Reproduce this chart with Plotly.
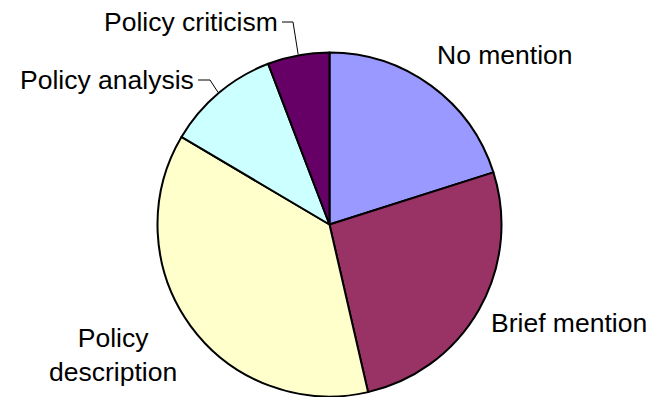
import math
import plotly.graph_objects as go

# ---- data ----
categories = ["No mention", "Brief mention", "Policy description", "Policy analysis", "Policy criticism"]
values = [20.1, 26.3, 37.1, 10.7, 5.8]
colors = ["#9999FF", "#993366", "#FFFFCC", "#CCFFFF", "#660066"]
label_texts = ["No mention", "Brief mention", "Policy<br>description", "Policy analysis", "Policy criticism"]

W, H = 658, 397
CX, CY, R = 329.5, 224.5, 172.0   # pie centre / radius in pixels

def px(x):
    return x / W

def py(y):
    return 1 - y / H

fig = go.Figure(go.Pie(
    labels=categories,
    values=values,
    sort=False,
    direction="clockwise",
    rotation=0,
    textinfo="none",
    hoverinfo="label+percent",
    marker=dict(colors=colors, line=dict(color="black", width=2)),
    domain=dict(x=[px(CX - R), px(CX + R)], y=[py(CY + R), py(CY - R)]),
    showlegend=False,
))

# label positions (pixels) — style/layout only
label_pos = [(505, 55), (569, 323), (113, 355), (107, 80), (191, 22)]
font = dict(family="Liberation Sans, Arial, sans-serif", size=26.5, color="black")
for txt, (lx, ly) in zip(label_texts, label_pos):
    fig.add_annotation(x=px(lx), y=py(ly), xref="paper", yref="paper",
                       text=txt, showarrow=False, font=font,
                       xanchor="center", yanchor="middle", align="center")

# leader lines for the two small slices, ending at slice mid-angle on the rim
total = sum(values)
cum = 0
mids = []
for v in values:
    mids.append((cum + v / 2) / total * 2 * math.pi)
    cum += v

def rim(i, extra=0):
    a = mids[i]
    return CX + (R + extra) * math.sin(a), CY - (R + extra) * math.cos(a)

elbows = {3: [(198, 80), (210, 80)], 4: [(282, 22), (293, 22)]}
for i, pts in elbows.items():
    ex, ey = rim(i, 1)
    path_pts = pts + [(ex, ey)]
    d = "M " + " L ".join(f"{px(x)},{py(y)}" for x, y in path_pts)
    fig.add_shape(type="path", xref="paper", yref="paper", path=d,
                  line=dict(color="black", width=1))

fig.update_layout(width=W, height=H, margin=dict(l=0, r=0, t=0, b=0),
                  paper_bgcolor="white", plot_bgcolor="white")
fig.write_html("out.html")
